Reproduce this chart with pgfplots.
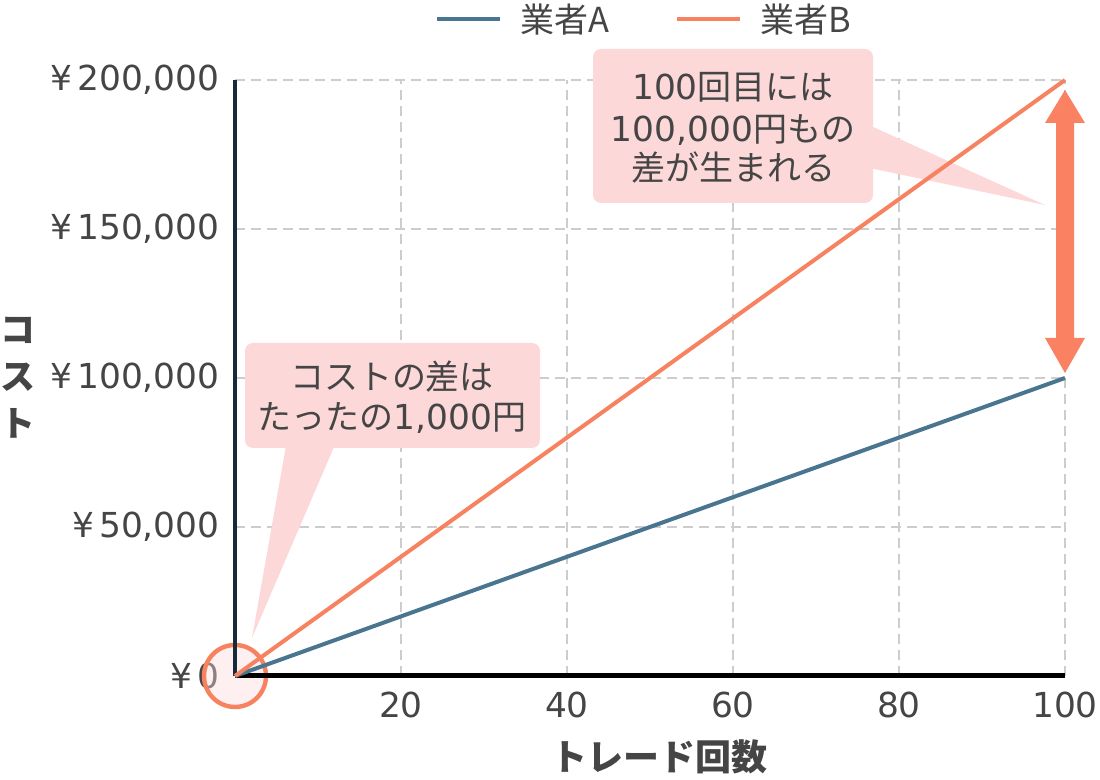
\documentclass[border=0pt]{standalone}
\usepackage{fontspec}
\setmainfont{DejaVu Sans}
\newfontfamily\cjk{Noto Sans CJK JP}
\usepackage{pgfplots}
\pgfplotsset{compat=1.18}
\definecolor{cA}{HTML}{4A7590}
\definecolor{cB}{HTML}{F7825F}
\definecolor{cArrow}{HTML}{FA8262}
\definecolor{pinkbox}{HTML}{FCD8D9}
\definecolor{txt}{HTML}{454545}
\definecolor{gridc}{HTML}{CDCDCD}
\definecolor{navy}{HTML}{17293A}
\newcommand{\fs}{\fontsize{17.2}{21}\selectfont}
\newcommand{\jfs}{\fontsize{17}{21}\selectfont}
\begin{document}
\begin{tikzpicture}
\path[use as bounding box] (0,0) rectangle (550pt,390pt);
\pgfplotsset{base/.style={at={(117.5pt,52pt)}, anchor=south west, scale only axis,
  width=415pt, height=298pt, xmin=0, xmax=100, ymin=0, ymax=200000, clip=false}}
% axis 1: grid and tick labels
\begin{axis}[base,
  axis line style={draw=none},
  grid=major,
  major grid style={gridc, line width=1pt, dash pattern=on 5pt off 3pt},
  tick style={draw=none},
  scaled y ticks=false, scaled x ticks=false,
  xtick={20,40,60,80,100},
  xticklabels={20,40,60,80,100},
  ytick={0,50000,100000,150000,200000},
  yticklabels={{¥\hspace{2.5pt}0},{¥\hspace{2.5pt}50,000},{¥\hspace{2.5pt}100,000},{¥\hspace{2.5pt}150,000},{¥\hspace{2.5pt}200,000}},
  xticklabel style={font=\fs, text=txt, anchor=north, inner sep=0pt, yshift=-8pt},
  yticklabel style={font=\fs, text=txt, anchor=east, inner sep=0pt, xshift=-7.5pt},
]
\addplot[draw=none, forget plot] coordinates {(0,0) (100,200000)};
\end{axis}
% callouts (behind the lines)
\begin{scope}[shift={(0,390pt)}, x=0.5pt, y=-0.5pt]
  \fill[pinkbox, rounded corners=4pt] (245,343) rectangle (540,448);
  \fill[pinkbox] (287,440) -- (337,440) -- (252,638) -- cycle;
  \fill[pinkbox, rounded corners=4pt] (593,49) rectangle (873,203);
  \fill[pinkbox] (860,121) -- (1045,205) -- (860,166) -- cycle;
  \node[txt, font=\jfs, inner sep=0pt] at (392,377) {\cjk コストの差は};
  \node[txt, font=\jfs, inner sep=0pt] at (392,418) {{\cjk たったの}\fs 1,000{\cjk\jfs 円}};
  \node[txt, font=\jfs, inner sep=0pt] at (733,87) {\fs 100{\cjk\jfs 回目には}};
  \node[txt, font=\jfs, inner sep=0pt] at (733,130) {\fs 100,000{\cjk\jfs 円もの}};
  \node[txt, font=\jfs, inner sep=0pt] at (733,168) {\cjk 差が生まれる};
  \filldraw[draw=cB, line width=2.2pt, fill=pinkbox, fill opacity=0.4] (235,676) circle (31);
\end{scope}
% axis 2: lines and axis lines
\begin{axis}[base,
  axis x line*=bottom, axis y line*=left,
  x axis line style={black, line width=2.5pt, -},
  y axis line style={navy, line width=2pt, -},
  xtick=\empty, ytick=\empty,
]
\addplot[cA, line width=2pt] coordinates {(0,0) (100,100000)};
\addplot[cB, line width=2pt] coordinates {(0,0) (100,200000)};
\end{axis}
% arrow, legend, axis labels
\begin{scope}[shift={(0,390pt)}, x=0.5pt, y=-0.5pt]
  \fill[cArrow] (1065,90) -- (1085,123) -- (1074,123) -- (1074,338) -- (1085,338) -- (1065,373)
     -- (1045,338) -- (1056,338) -- (1056,123) -- (1045,123) -- cycle;
  \draw[cA, line width=2pt] (437,19) -- (500,19);
  \node[txt, anchor=base west, inner sep=0pt, font=\jfs] at (520,33) {\cjk 業者\fs A};
  \draw[cB, line width=2pt] (677,19) -- (740,19);
  \node[txt, anchor=base west, inner sep=0pt, font=\jfs] at (760,33) {\cjk 業者\fs B};
  \node[txt, inner sep=0pt, font=\cjk\bfseries\fontsize{18}{22}\selectfont] at (659,757) {トレード回数};
  \node[txt, inner sep=0pt, align=center, font=\cjk\bfseries\fontsize{17.5}{23.5}\selectfont] at (18,378) {コ\\ス\\ト};
\end{scope}
\end{tikzpicture}
\end{document}
